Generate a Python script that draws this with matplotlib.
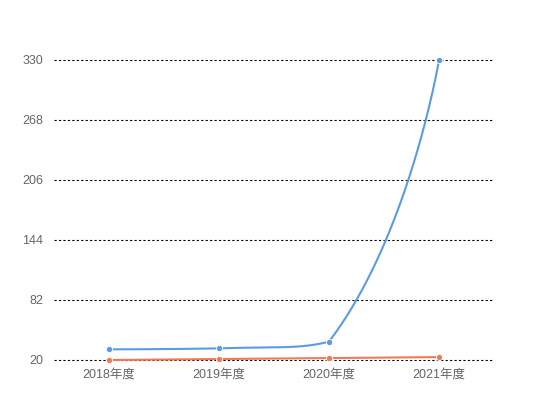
import numpy as np
import matplotlib
matplotlib.use('Agg')
import matplotlib.pyplot as plt

plt.rcParams['font.family'] = ['Liberation Sans', 'Noto Sans CJK SC', 'DejaVu Sans']

years = ['2018年度', '2019年度', '2020年度', '2021年度']
blue_vals = [31, 32, 39, 330]
orange_vals = [20, 21, 22, 23]
yticks = [20, 82, 144, 206, 268, 330]

blue = '#5B9BE6'
orange = '#EF7B55'


def smooth_curve(pts, smooth=0.5):
    # echarts-style bezier smoothing, control points kept inside the points' bbox
    lo = pts.min(axis=0)
    hi = pts.max(axis=0)
    n = len(pts)
    cps = [pts[0].copy()]
    for i in range(1, n - 1):
        p, prev, nxt = pts[i], pts[i - 1], pts[i + 1]
        v = (nxt - prev) * smooth
        d0 = np.hypot(*(p - prev))
        d1 = np.hypot(*(p - nxt))
        s = d0 + d1
        d0, d1 = d0 / s, d1 / s
        cp0 = np.clip(p - v * d0, lo, hi)
        cp1 = np.clip(p + v * d1, lo, hi)
        cps += [cp0, cp1]
    cps.append(pts[-1].copy())
    t = np.linspace(0, 1, 80)[:, None]
    out = []
    for i in range(n - 1):
        p0, c0, c1, p1 = pts[i], cps[2 * i], cps[2 * i + 1], pts[i + 1]
        out.append((1 - t) ** 3 * p0 + 3 * (1 - t) ** 2 * t * c0 + 3 * (1 - t) * t ** 2 * c1 + t ** 3 * p1)
    return np.vstack(out)


fig = plt.figure(figsize=(5.5, 4.2), dpi=100)
ax = fig.add_axes([54 / 550, 60 / 420, 440 / 550, 300 / 420])
ax.set_xlim(-0.5, 3.5)
ax.set_ylim(20, 330)

xs = np.arange(len(years))
for vals, col in [(orange_vals, orange), (blue_vals, blue)]:
    pix = ax.transData.transform(np.column_stack([xs, vals]))
    curve = ax.transData.inverted().transform(smooth_curve(pix))
    ax.plot(curve[:, 0], curve[:, 1], color=col, lw=1.5, solid_capstyle='round', clip_on=False, zorder=3)
    ax.plot(xs, vals, 'o', color=col, ms=4.5, mec='white', mew=0.6, clip_on=False, zorder=4)

ax.set_yticks(yticks)
ax.set_xticks(xs)
ax.set_xticklabels(years)
ax.grid(axis='y', color='black', linestyle=(0, (2, 2)), linewidth=0.8)
for gl in ax.get_ygridlines():
    gl.set_clip_on(False)
ax.set_axisbelow(True)
for s in ax.spines.values():
    s.set_visible(False)
ax.tick_params(length=0, colors='#666666', labelsize=9)
ax.tick_params(axis='y', pad=8)
ax.tick_params(axis='x', pad=6)

fig.savefig('out.png', dpi=100)
